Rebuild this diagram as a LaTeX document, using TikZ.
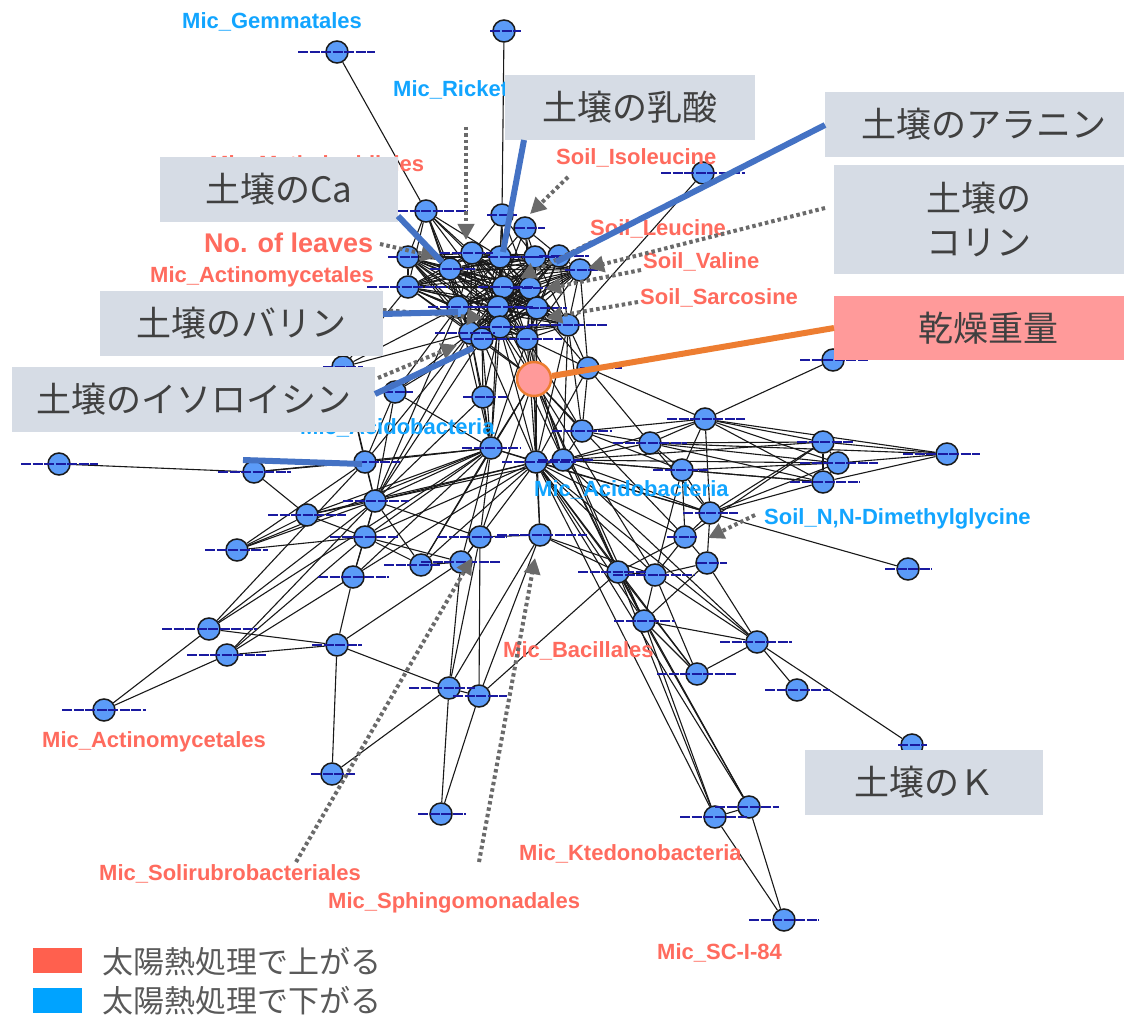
\documentclass[tikz,border=0pt]{standalone}
\usepackage{fontspec}
\setmainfont{Liberation Sans}
\newfontfamily\jp{Noto Sans CJK JP}
\usetikzlibrary{arrows.meta}
\definecolor{nodeblue}{HTML}{5B9BF8}
\definecolor{labred}{HTML}{FF6B5E}
\definecolor{labblue}{HTML}{12A5FF}
\definecolor{boxgray}{HTML}{D6DCE5}
\definecolor{boxtext}{HTML}{404040}
\definecolor{callblue}{HTML}{4472C4}
\definecolor{callorange}{HTML}{ED7D31}
\definecolor{salmonfill}{HTML}{FF9A9A}
\definecolor{arrgray}{HTML}{6A6A6A}
\definecolor{navycol}{HTML}{1A1AA0}
\definecolor{legred}{HTML}{FF604E}
\definecolor{legblue}{HTML}{00A3FF}
\definecolor{legtext}{HTML}{595959}
\pgfdeclarelayer{bglayer}
\pgfdeclarelayer{edgelayer}
\pgfsetlayers{bglayer,edgelayer,main}
\begin{document}
\begin{tikzpicture}[x=1pt,y=-1pt,
 bnode/.style={circle,draw=black!90,line width=1.5pt,fill=nodeblue,minimum size=22pt,inner sep=0pt},
 snode/.style={circle,draw=callorange,line width=2.5pt,fill=salmonfill,minimum size=34pt,inner sep=0pt},
 edgeline/.style={draw=black!90,line width=1.1pt},
 navyline/.style={draw=navycol,line width=1.4pt,dash pattern=on 10pt off 1.5pt},
 redlab/.style={text=labred,font=\fontsize{22}{24}\selectfont\bfseries,anchor=west,inner sep=0pt},
 bluelab/.style={text=labblue,font=\fontsize{22}{24}\selectfont\bfseries,anchor=west,inner sep=0pt},
 callbox/.style={fill=boxgray,text=boxtext,font=\jp\fontsize{35}{44}\selectfont,inner sep=0pt,align=center},
 dotarrow/.style={draw=arrgray,line width=4pt,dash pattern=on 3.5pt off 3pt,-{Triangle[length=16pt,width=16pt]}},
 callline/.style={draw=callblue,line width=6pt},
 orangeline/.style={draw=callorange,line width=6pt},
 legtxt/.style={text=legtext,font=\jp\fontsize{31}{36}\selectfont,anchor=west,inner sep=0pt},
]
\useasboundingbox (0,0) rectangle (1124,1016);
\begin{pgfonlayer}{bglayer}
\fill[white] (0,0) rectangle (1124,1016);
\end{pgfonlayer}

% ---------- nodes ----------
\def\nodelist{t1/504/31/14/17, t2/337/52/39/38, t3/703/173/42/42, r1/833/360/33/35,
c1/426/211/28/42, c2/502/215/15/15, c3/525/228/10/20,
c4/408/257/20/10, c5/472/253/32/21, c6/450/269/20/25, c7/500/257/12/35, c8/535/257/25/30, c9/559/256/20/30, c10/580/270/15/25, c11/408/287/41/40, c12/503/287/25/30, c13/530/288/20/30, c14/458/307/30/40, c15/498/307/30/35, c16/537/308/20/30, c17/568/325/40/40, c18/470/333/35/25, c19/482/339/20/20, c20/500/327/20/30, c21/527/339/30/35,
m1/588/368/8/34, m2/483/397/20/24, m3/395/392/12/18, m4/343/367/20/20,
a1/59/464/38/39, a2/254/472/36/37, a3/365/462/8/35, a4/375/501/32/34, a5/307/515/39/39, a6/365/537/35/33, a7/237/550/32/31, a8/353/577/35/36, a9/421/565/37/19, a10/461/562/40/39, a11/480/537/43/27, a12/540/535/43/47, a13/491/448/29/30, a14/536/462/34/40, a15/563/460/25/30, a16/582/431/30/30, a17/650/443/37/37, a18/705/419/38/40, a19/682/470/29/26, a20/823/442/26/30, a21/838/463/38/40, a22/823/482/33/37, a23/947/454/44/33, a24/710/513/27/28, a25/685/537/18/12, a26/707/563/10/20, a27/618/572/40/29, a28/655/575/42/40, a29/908/569/23/24,
b1/209/629/47/48, b2/227/655/40/39, b3/337/645/25/25, b4/104/710/42/42, b5/332/774/21/23, b6/449/688/40/26, b7/479/696/26/28, b8/441/814/23/25, b9/644/621/30/31, b10/757/642/37/35, b11/697/674/40/39, b12/797/690/32/33, b13/912/745/14/15, b14/715/817/35/32, b15/749/807/34/30, b16/784/920/35/35}

\foreach \n/\x/\y/\l/\r in \nodelist { \node[bnode] (\n) at (\x,\y) {}; }
\node[snode] (sal) at (534,379) {};

% ---------- edges ----------
\begin{pgfonlayer}{edgelayer}
\foreach \i in {4,...,21}{\foreach \j in {4,...,21}{\ifnum\i<\j \draw[edgeline] (c\i) -- (c\j);\fi}}
\foreach \p/\q in {t1/c2, t2/c1, t3/c17, r1/a18,
c1/c5, c1/c6, c1/c7, c1/c11, c1/c12, c1/c14, c1/c15, c1/c4, c1/c18,
c2/c5, c2/c7, c2/c12, c2/c13, c2/c15, c2/c8,
c3/c7, c3/c8, c3/c9, c3/c12, c3/c13, c3/c16,
m4/c14, m4/c18, m4/c11, m4/a4, m4/a3,
m3/c18, m3/c19, m3/c14, m3/a3, m3/a13, m3/a4,
m2/c19, m2/c20, m2/c18, m2/a13, m2/a4,
m1/c17, m1/c21, m1/c16, m1/c10, m1/a16, m1/a18, m1/a17, m1/a14,
sal/c19, sal/c20, sal/c21, sal/c15, sal/c16, sal/c18, sal/c13, sal/c12, sal/a13, sal/a14, sal/a15, sal/a12, sal/a11, sal/a27, sal/a28, sal/a25, sal/a9, sal/a16, sal/b9,
a13/c18, a13/c19, a13/c20, a13/c21, a13/c14, a13/c15, a13/a4, a13/a5, a13/a7, a13/a6, a13/a3, a13/a2, a13/a8, a13/b1, a13/a14, a13/a11, a13/a10, a13/a9,
a14/c19, a14/c20, a14/c21, a14/c16, a14/c17, a14/a4, a14/a6, a14/a9, a14/a10, a14/a27, a14/a28, a14/b9, a14/b10, a14/a25, a14/a15, a14/a12, a14/a24, a14/b14, a14/b15, a14/b11, a14/a5, a14/b2,
a15/c20, a15/c21, a15/c17, a15/a17, a15/a18, a15/a19, a15/a20, a15/a21, a15/a22, a15/a24, a15/a27, a15/b9, a15/b10, a15/a16, a15/a4,
a16/c17, a16/c21, a16/a18, a16/a17, a16/a19,
a18/a17, a18/a19, a18/a20, a18/a21, a18/a22, a18/a23, a18/a24,
a17/a23, a17/a20, a17/a21, a17/a22, a17/a19, a17/a24,
a19/a24, a19/a25, a19/a28, a19/a22, a19/a21,
a24/a29, a24/a20, a24/a21, a24/a22, a24/a25, a24/a26, a24/a13,
a25/a27, a25/a28, a25/a26, a25/a20,
a26/b10, a26/a28, a26/b9,
a27/b9, a27/b14, a27/b15, a27/b11, a27/a28, a27/a12, a27/b7,
a28/b9, a28/b10, a28/b11,
b9/b14, b9/b15, b9/b11, b9/b10,
b10/b12, b10/b13, b10/b11,
a12/a11, a12/b7, a12/a28, a12/b6,
a11/a10, a11/a4, a11/b7, a11/b6,
a10/a9, a10/b6, a10/a6,
a9/a6, a9/a4,
a6/a4, a6/a8, a6/a5, a6/a7,
a5/a4, a5/a2, a5/a7,
a7/a4, a7/a3,
a8/b3, a8/a4,
b1/b3, b1/b4, b1/a4, b1/a3,
b2/b3, b2/b4, b2/a4, b2/a6,
b3/b5, b3/b6, b3/a10,
b5/b6, b6/b7, b6/b8, b7/b8,
b14/b15, b14/b16, b15/b16,
a20/a21, a21/a22, a20/a22, a23/a21, a23/a22, a23/a20,
a1/a2, a2/a3, a3/a4, a3/c18, a4/c18, a4/c19, a4/c14}
{ \draw[edgeline] (\p) -- (\q); }
\end{pgfonlayer}

% ---------- navy label strokes ----------
\foreach \n/\x/\y/\l/\r in \nodelist {
  \draw[navyline] ([xshift=-\l pt]\n.center) -- ([xshift=\r pt]\n.center);
}

% ---------- text labels ----------
\node[bluelab] (lGem) at (182,22) {Mic\_Gemmatales};
\node[bluelab] (lRic) at (393,90) {Mic\_Ricket};
\node[redlab] (lMet) at (210,166) {Mic\_Methylophilales};
\node[redlab,font=\fontsize{27}{30}\selectfont\bfseries] (lNo) at (204,243) {No. of leaves};
\node[redlab] (lAct1) at (150,277) {Mic\_Actinomycetales};
\node[redlab] (lIso) at (556,158) {Soil\_Isoleucine};
\node[redlab] (lLeu) at (590,229) {Soil\_Leucine};
\node[redlab] (lVal) at (643,262) {Soil\_Valine};
\node[redlab] (lSar) at (640,298) {Soil\_Sarcosine};
\node[bluelab] (lAcid1) at (300,428) {Mic\_Acidobacteria};
\node[bluelab] (lAcid2) at (534,490) {Mic\_Acidobacteria};
\node[bluelab] (lDmg) at (764,519) {Soil\_N,N-Dimethylglycine};
\node[redlab] (lBac) at (503,651) {Mic\_Bacillales};
\node[redlab] (lAct2) at (42,742) {Mic\_Actinomycetales};
\node[redlab] (lSol) at (99,874) {Mic\_Solirubrobacteriales};
\node[redlab] (lKte) at (519,854) {Mic\_Ktedonobacteria};
\node[redlab] (lSph) at (328,903) {Mic\_Sphingomonadales};
\node[redlab] (lSC) at (657,953) {Mic\_SC-I-84};

% ---------- dotted arrows ----------
\coordinate (d1s) at (466,127);  \coordinate (d1e) at (466,240);
\coordinate (d2s) at (568,177);  \coordinate (d2e) at (530,214);
\coordinate (d3s) at (825,208);  \coordinate (d3e) at (588,268);
\coordinate (d4s) at (592,242);  \coordinate (d4e) at (520,278);
\coordinate (d5s) at (641,270);  \coordinate (d5e) at (545,289);
\coordinate (d6s) at (638,302);  \coordinate (d6e) at (546,318);
\coordinate (d7s) at (380,244);  \coordinate (d7e) at (437,257);
\coordinate (d8s) at (383,310);  \coordinate (d8e) at (483,318);
\coordinate (d9s) at (378,378);  \coordinate (d9e) at (457,345);
\coordinate (d10s) at (296,862); \coordinate (d10e) at (472,558);
\coordinate (d11s) at (479,862); \coordinate (d11e) at (535,558);
\coordinate (d12s) at (755,515); \coordinate (d12e) at (708,538);
\foreach \k in {1,...,12} { \draw[dotarrow] (d\k s) -- (d\k e); }

% ---------- callout boxes ----------
\node[callbox,minimum width=250pt,minimum height=65pt] (bNyu) at (630,107.5) {土壌の乳酸};
\node[callbox,minimum width=299pt,minimum height=65pt] (bAla) at (974.5,124.5) {\hspace*{18pt}土壌のアラニン};
\node[callbox,minimum width=238pt,minimum height=65pt] (bCa) at (279,189.5) {土壌のCa};
\node[callbox,minimum width=290pt,minimum height=109pt] (bCho) at (979,219.5) {土壌の\\コリン};
\node[callbox,fill=salmonfill,minimum width=290pt,minimum height=64pt] (bKan) at (979,328) {\hspace*{18pt}乾燥重量};
\node[callbox,minimum width=283pt,minimum height=65pt] (bVal) at (241.5,323.5) {土壌のバリン};
\node[callbox,minimum width=363pt,minimum height=65pt] (bIso) at (193.5,399.5) {土壌のイソロイシン};
\node[callbox,minimum width=238pt,minimum height=65pt] (bK) at (924,782.5) {土壌のＫ};

% ---------- callout lines ----------
\coordinate (e1s) at (524,140); \coordinate (e1e) at (503,252);
\coordinate (e2s) at (825,125); \coordinate (e2e) at (556,262);
\coordinate (e3s) at (398,216); \coordinate (e3e) at (442,262);
\coordinate (e4s) at (383,314); \coordinate (e4e) at (458,312);
\coordinate (e5s) at (375,394); \coordinate (e5e) at (473,348);
\coordinate (e6s) at (243,460); \coordinate (e6e) at (362,464);
\foreach \k in {1,...,6} { \draw[callline] (e\k s) -- (e\k e); }
\coordinate (o1s) at (834,328);
\draw[orangeline] (o1s) -- (sal);

% ---------- legend ----------
\fill[legred] (33,948) rectangle (82,973);
\fill[legblue] (33,988) rectangle (82,1013);
\node[legtxt] (leg1) at (102,962) {太陽熱処理で上がる};
\node[legtxt] (leg2) at (102,1001) {太陽熱処理で下がる};
\end{tikzpicture}
\end{document}
